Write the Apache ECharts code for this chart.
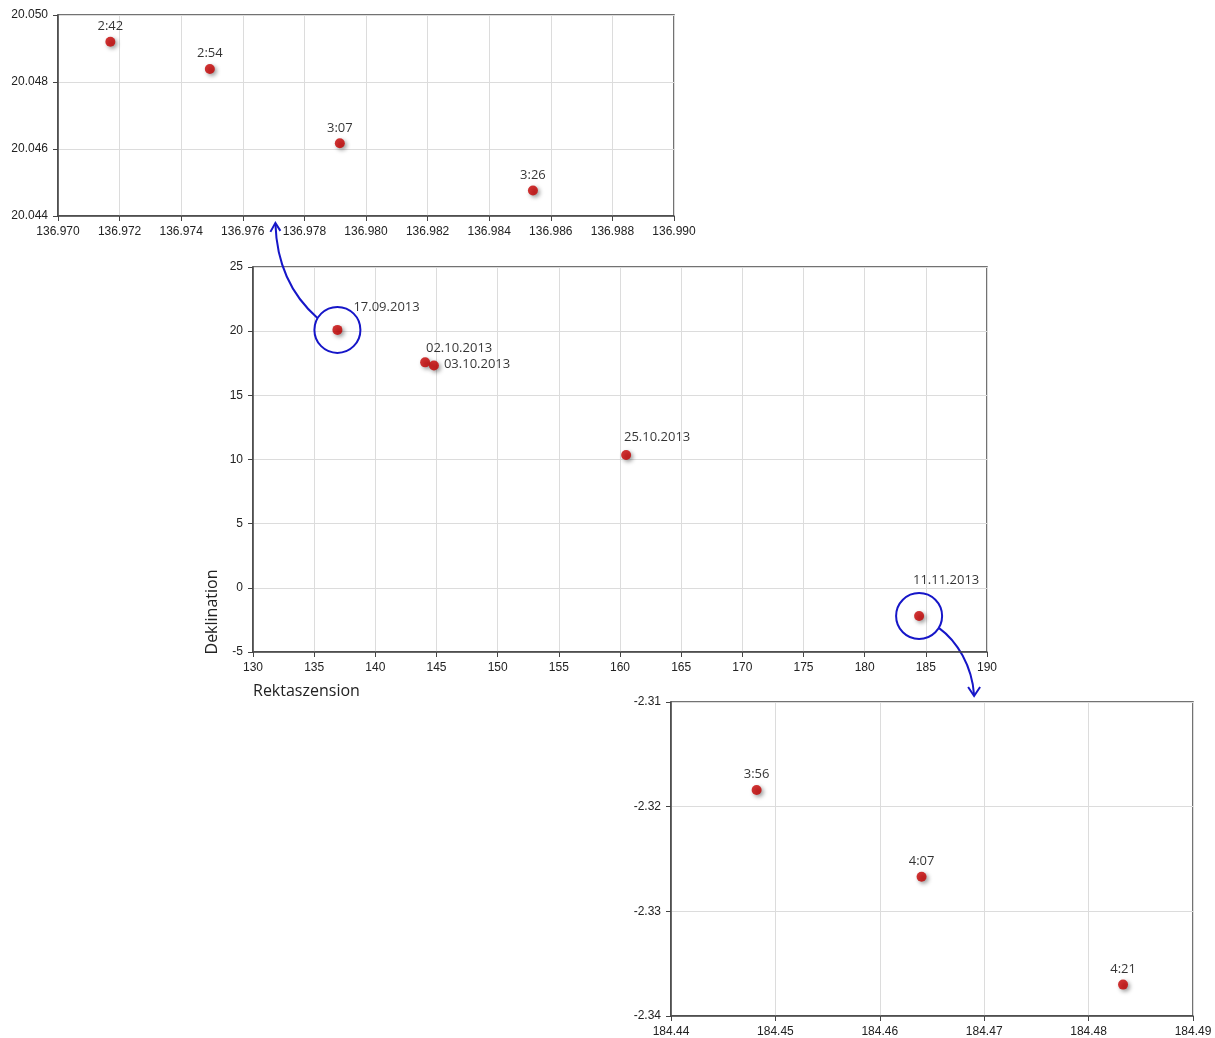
<!DOCTYPE html>
<html>
<head>
<meta charset="utf-8">
<script src="https://cdn.jsdelivr.net/npm/echarts@6/dist/echarts.min.js"></script>
<style>
  html, body { margin: 0; padding: 0; background: #fff; }
  #chart { width: 1215px; height: 1038px; }
</style>
</head>
<body>
<div id="chart"></div>
<script>
// Detail 17.09.2013 (Uhrzeiten)
var topTimes = ['2:42', '2:54', '3:07', '3:26'];
var topRA = [136.9717, 136.97493, 136.97915, 136.98542];
var topDec = [20.0492, 20.04839, 20.04617, 20.04476];

// Übersicht
var mainDates = ['17.09.2013', '02.10.2013', '03.10.2013', '25.10.2013', '11.11.2013'];
var mainRA = [136.9, 144.07, 144.79, 160.5, 184.45];
var mainDec = [20.1, 17.57, 17.33, 10.35, -2.2];
var circled = [0, 4];

// Detail 11.11.2013 (Uhrzeiten)
var botTimes = ['3:56', '4:07', '4:21'];
var botRA = [184.4482, 184.4640, 184.4833];
var botDec = [-2.3184, -2.3267, -2.3370];

// label placement for the overview points (style only)
var mainLabelPos = [
    {position: 'right', offset: [6, -23]},
    {position: 'top', offset: [34, 2]},
    {position: 'right', offset: [0, -1]},
    {position: 'top', offset: [31, -1]},
    {position: 'top', offset: [27, -19]}
];

var red = '#c40000';
var blue = '#1616c8';
var labelFont = '"Open Sans", sans-serif';
var tickFont = '"Liberation Sans", Arial, sans-serif';

function axisX(idx, min, max, step, dec) {
    return {
        type: 'value', gridIndex: idx, min: min, max: max, interval: step,
        axisLine: {show: true, onZero: false, lineStyle: {color: '#444', width: 1.5}},
        axisTick: {show: true, length: 5, lineStyle: {color: '#444'}},
        splitLine: {show: true, lineStyle: {color: '#dcdcdc'}},
        axisLabel: {
            color: '#222', fontSize: 12, fontFamily: tickFont, margin: 10,
            formatter: function (v) { return v.toFixed(dec); }
        }
    };
}
function axisY(idx, min, max, step, dec) {
    return {
        type: 'value', gridIndex: idx, min: min, max: max, interval: step,
        axisLine: {show: true, onZero: false, lineStyle: {color: '#444', width: 1.5}},
        axisTick: {show: true, length: 5, lineStyle: {color: '#444'}},
        splitLine: {show: true, lineStyle: {color: '#dcdcdc'}},
        axisLabel: {
            color: '#222', fontSize: 12, fontFamily: tickFont, margin: 10,
            formatter: function (v) { return v.toFixed(dec); }
        }
    };
}

var dotStyle = {
    color: red,
    shadowBlur: 4,
    shadowOffsetX: 2,
    shadowOffsetY: 2,
    shadowColor: 'rgba(0,0,0,0.5)'
};

function timeSeries(idx, xs, ys, names) {
    var data = [];
    for (var i = 0; i < xs.length; i++) data.push({value: [xs[i], ys[i]], name: names[i]});
    return {
        type: 'scatter', xAxisIndex: idx, yAxisIndex: idx,
        symbolSize: 10, itemStyle: dotStyle, silent: true,
        label: {
            show: true, position: 'top', distance: 4,
            formatter: '{b}', color: '#000', fontSize: 13, fontFamily: labelFont
        },
        data: data
    };
}

var mainData = [];
for (var i = 0; i < mainRA.length; i++) {
    mainData.push({
        value: [mainRA[i], mainDec[i]],
        name: mainDates[i],
        label: mainLabelPos[i]
    });
}
var circleData = circled.map(function (k) { return [mainRA[k], mainDec[k]]; });

var chart = echarts.init(document.getElementById('chart'));
var option = {
    animation: false,
    backgroundColor: '#fff',
    grid: [
        {left: 58, top: 15, width: 616, height: 201, show: true, borderColor: '#444', borderWidth: 1.5},
        {left: 253, top: 267, width: 734, height: 385, show: true, borderColor: '#444', borderWidth: 1.5},
        {left: 671, top: 702, width: 522, height: 314, show: true, borderColor: '#444', borderWidth: 1.5}
    ],
    xAxis: [
        axisX(0, 136.970, 136.990, 0.002, 3),
        axisX(1, 130, 190, 5, 0),
        axisX(2, 184.44, 184.49, 0.01, 2)
    ],
    yAxis: [
        axisY(0, 20.044, 20.050, 0.002, 3),
        axisY(1, -5, 25, 5, 0),
        axisY(2, -2.34, -2.31, 0.01, 2)
    ],
    series: [
        timeSeries(0, topRA, topDec, topTimes),
        {
            type: 'scatter', xAxisIndex: 1, yAxisIndex: 1,
            symbol: 'circle', symbolSize: 46, silent: true,
            itemStyle: {color: 'rgba(255,255,255,0)', borderColor: blue, borderWidth: 2, opacity: 1},
            z: 3,
            data: circleData
        },
        {
            type: 'scatter', xAxisIndex: 1, yAxisIndex: 1,
            symbolSize: 10, itemStyle: dotStyle, silent: true,
            z: 4,
            label: {
                show: true, formatter: '{b}', color: '#000',
                fontSize: 13, fontFamily: labelFont
            },
            data: mainData
        },
        timeSeries(2, botRA, botDec, botTimes)
    ]
};
chart.setOption(option);

// arrows from the circled points to the detail charts
var c1 = chart.convertToPixel({gridIndex: 1}, circleData[0]);
var c2 = chart.convertToPixel({gridIndex: 1}, circleData[1]);
var arrowStyle = {stroke: blue, lineWidth: 2, fill: null};

chart.setOption({
    graphic: [
        {
            type: 'bezierCurve', silent: true,
            shape: {
                x1: c1[0] - 20, y1: c1[1] - 12,
                cpx1: c1[0] - 52, cpy1: c1[1] - 40,
                cpx2: c1[0] - 61, cpy2: c1[1] - 75,
                x2: c1[0] - 62, y2: c1[1] - 106
            },
            style: arrowStyle
        },
        {
            type: 'polyline', silent: true,
            shape: {points: [[c1[0] - 67, c1[1] - 98], [c1[0] - 62, c1[1] - 107], [c1[0] - 57, c1[1] - 99]]},
            style: arrowStyle
        },
        {
            type: 'bezierCurve', silent: true,
            shape: {
                x1: c2[0] + 20, y1: c2[1] + 12,
                cpx1: c2[0] + 38, cpy1: c2[1] + 25,
                cpx2: c2[0] + 53, cpy2: c2[1] + 50,
                x2: c2[0] + 55, y2: c2[1] + 79
            },
            style: arrowStyle
        },
        {
            type: 'polyline', silent: true,
            shape: {points: [[c2[0] + 49, c2[1] + 71], [c2[0] + 55, c2[1] + 80], [c2[0] + 61, c2[1] + 71]]},
            style: arrowStyle
        },
        {
            type: 'text', silent: true, left: 253, top: 683,
            style: {text: 'Rektaszension', fill: '#222', fontSize: 16, fontFamily: labelFont}
        },
        {
            type: 'text', silent: true, x: 212, y: 612, rotation: Math.PI / 2,
            style: {
                text: 'Deklination', fill: '#222', fontSize: 16, fontFamily: labelFont,
                align: 'center', verticalAlign: 'middle'
            }
        }
    ]
});
</script>
</body>
</html>
